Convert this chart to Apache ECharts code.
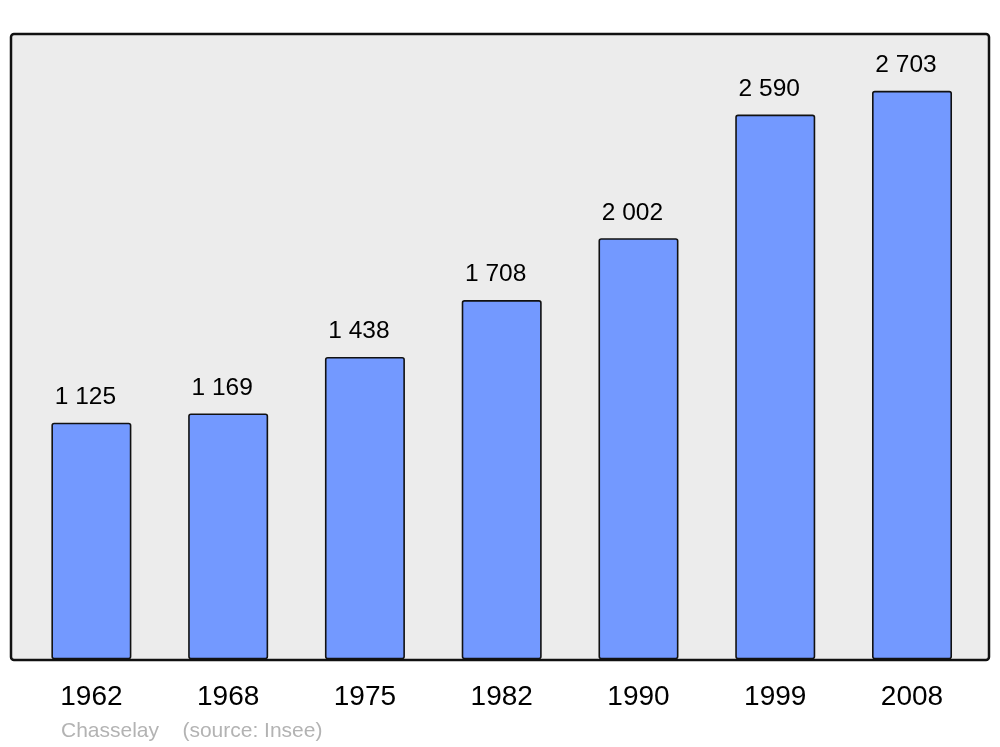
<!DOCTYPE html>
<html>
<head>
<meta charset="utf-8">
<script src="https://cdn.jsdelivr.net/npm/echarts@6/dist/echarts.min.js"></script>
<style>
  html, body { margin: 0; padding: 0; background: #fff; }
  #chart { width: 1000px; height: 747px; }
</style>
</head>
<body>
<div id="chart"></div>
<script>
  // population data
  const years = ['1962', '1968', '1975', '1982', '1990', '1999', '2008']
  const population = [1125, 1169, 1438, 1708, 2002, 2590, 2703]
  const footerText = 'Chasselay    (source: Insee)'

  const fmt = v => String(v).replace(/\B(?=(\d{3})+(?!\d))/g, ' ')

  const myChart = echarts.init(document.getElementById('chart'))
  const option = {
    animation: false,
    textStyle: { fontFamily: 'Liberation Sans, Arial, sans-serif' },
    title: {
      text: footerText,
      left: 56,
      top: 716,
      textStyle: { color: '#b3b3b3', fontSize: 21, fontWeight: 'normal', fontFamily: 'Liberation Sans' }
    },
    // frame behind the plot
    graphic: [{
      type: 'rect',
      z: -10,
      shape: { x: 11, y: 34, width: 978, height: 626, r: 3 },
      style: { fill: '#ececec', stroke: '#111', lineWidth: 2.5 }
    }],
    grid: { left: 23, right: 19.6, top: 34, bottom: 87.6 },
    xAxis: {
      type: 'category',
      data: years,
      axisLine: { show: false },
      axisTick: { show: false },
      axisLabel: { color: '#000', fontSize: 28, margin: 24, fontFamily: 'Liberation Sans' }
    },
    yAxis: {
      type: 'value',
      min: 0,
      max: 2973,
      show: false,
      splitLine: { show: false }
    },
    series: [{
      type: 'bar',
      data: population,
      barWidth: 80,
      itemStyle: { color: '#7399ff', borderColor: '#111', borderWidth: 1.6, borderRadius: 2 },
      label: {
        show: true,
        position: 'top',
        distance: 13,
        offset: [-6, 0],
        color: '#000',
        fontSize: 24.5,
        fontFamily: 'Liberation Sans',
        formatter: p => fmt(p.value)
      }
    }]
  }
  myChart.setOption(option)
</script>
</body>
</html>
